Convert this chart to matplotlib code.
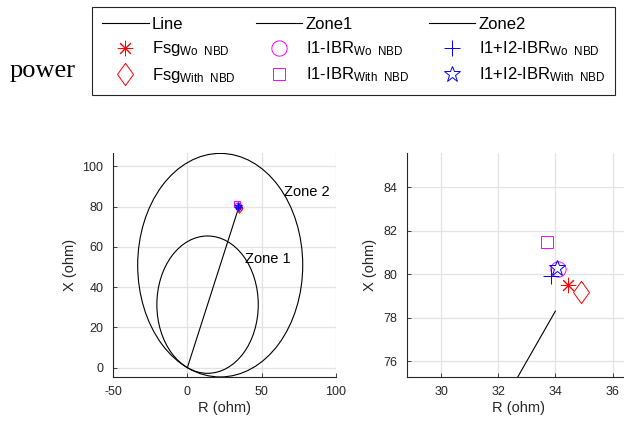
import matplotlib
matplotlib.use('Agg')
import matplotlib.pyplot as plt
from matplotlib.lines import Line2D
from matplotlib.patches import Circle

plt.rcParams['font.family'] = ['Liberation Sans', 'DejaVu Sans']
plt.rcParams['mathtext.fontset'] = 'custom'
plt.rcParams['mathtext.rm'] = 'Liberation Sans'
plt.rcParams['mathtext.it'] = 'Liberation Sans:italic'
plt.rcParams['mathtext.bf'] = 'Liberation Sans:bold'
plt.rcParams['axes.unicode_minus'] = False

# --- Data ---
line_r = [0.0, 34.0]
line_x = [0.0, 78.3]

zone_names = ['Zone 1', 'Zone 2']
zone_centers = [(13.6, 31.3), (22.1, 50.9)]
zone_radii = [34.1, 55.5]
zone_text_pos = [(39.0, 53.8), (65.0, 87.3)]

case_labels = [r'Fsg$_{\mathrm{Wo\ \ NBD}}$', r'Fsg$_{\mathrm{With\ \ NBD}}$',
               r'I1-IBR$_{\mathrm{Wo\ \ NBD}}$', r'I1-IBR$_{\mathrm{With\ \ NBD}}$',
               r'I1+I2-IBR$_{\mathrm{Wo\ \ NBD}}$', r'I1+I2-IBR$_{\mathrm{With\ \ NBD}}$']
case_r = [34.45, 34.90, 34.10, 33.70, 33.85, 34.05]
case_x = [79.50, 79.20, 80.25, 81.50, 79.90, 80.30]

# --- Styles ---
diamond = [(0, 1), (0.72, 0), (0, -1), (-0.72, 0), (0, 1)]
case_colors = ['red', 'red', 'magenta', 'magenta', 'blue', 'blue']
case_markers = [(8, 2, 0), diamond, 'o', 's', '+', '*']
big_sizes = [11, 16, 11, 9, 12, 12]
small_sizes = [5, 7, 5, 4.5, 6, 6]

axis_col = '#262626'
grid_col = '#e3e3e3'


def style_axes(ax):
    ax.grid(True, color=grid_col, linewidth=0.9)
    ax.set_axisbelow(True)
    for s in ['top', 'right']:
        ax.spines[s].set_visible(False)
    for s in ['left', 'bottom']:
        ax.spines[s].set_color(axis_col)
        ax.spines[s].set_linewidth(0.8)
    ax.tick_params(direction='in', length=3, width=0.6, colors=axis_col,
                   labelsize=9, pad=7)
    ax.set_xlabel('R (ohm)', fontsize=10.5, color=axis_col, labelpad=2)
    ax.set_ylabel('X (ohm)', fontsize=10.5, color=axis_col, labelpad=4)


fig = plt.figure(figsize=(6.24, 4.23), dpi=100)

# Left: full view
ax1 = fig.add_axes([0.1811, 0.1095, 0.3574, 0.5288])
ax1.plot(line_r, line_x, color='black', linewidth=0.8)
for (cr, cx), rad in zip(zone_centers, zone_radii):
    ax1.add_patch(Circle((cr, cx), rad, fill=False, edgecolor='black', linewidth=0.8))
for name, (tx, ty) in zip(zone_names, zone_text_pos):
    ax1.text(tx, ty, name, fontsize=10.5, va='center', ha='left')
for r, x, c, m, ms in zip(case_r, case_x, case_colors, case_markers, small_sizes):
    ax1.plot([r], [x], linestyle='none', marker=m, markersize=ms, color=c,
             markerfacecolor='none', markeredgewidth=0.7)
ax1.set_xlim(-50, 100)
ax1.set_ylim(-4.47, 106.6)
ax1.set_xticks([-50, 0, 50, 100])
ax1.set_yticks([0, 20, 40, 60, 80, 100])
style_axes(ax1)

# Right: zoomed view
ax2 = fig.add_axes([0.6518, 0.1095, 0.3574, 0.5288])
ax2.plot(line_r, line_x, color='black', linewidth=0.8)
for (cr, cx), rad in zip(zone_centers, zone_radii):
    ax2.add_patch(Circle((cr, cx), rad, fill=False, edgecolor='black', linewidth=0.8))
for r, x, c, m, ms in zip(case_r, case_x, case_colors, case_markers, big_sizes):
    ax2.plot([r], [x], linestyle='none', marker=m, markersize=ms, color=c,
             markerfacecolor='none', markeredgewidth=0.7)
ax2.set_xlim(28.8, 36.6)
ax2.set_ylim(75.28, 85.58)
ax2.set_xticks([30, 32, 34, 36])
ax2.set_yticks([76, 78, 80, 82, 84])
style_axes(ax2)

# Legend (column-major order for 3 columns)
line_h = [Line2D([], [], color='black', linewidth=0.8, label=n)
          for n in ['Line', 'Zone1', 'Zone2']]
case_h = [Line2D([], [], linestyle='none', marker=m, markersize=ms, color=c,
                 markeredgecolor=c, markerfacecolor='none', markeredgewidth=0.7,
                 label=lab)
          for lab, c, m, ms in zip(case_labels, case_colors, case_markers, big_sizes)]
handles = [line_h[0], case_h[0], case_h[1],
           line_h[1], case_h[2], case_h[3],
           line_h[2], case_h[4], case_h[5]]
leg = fig.legend(handles=handles, ncol=3, loc='upper left',
                 bbox_to_anchor=(92 / 624, 1 - 7 / 423),
                 fontsize=12, frameon=True, fancybox=False, framealpha=1,
                 edgecolor=axis_col, handlelength=2.8, handletextpad=0.2,
                 columnspacing=1.2, labelspacing=0.45, borderpad=0.6,
                 borderaxespad=0)
leg.get_frame().set_linewidth(0.8)

fig.text(10 / 624, 1 - 77 / 423, 'power', fontsize=19, family='Liberation Serif',
         va='baseline', ha='left')

fig.savefig('out.png', dpi=100)
